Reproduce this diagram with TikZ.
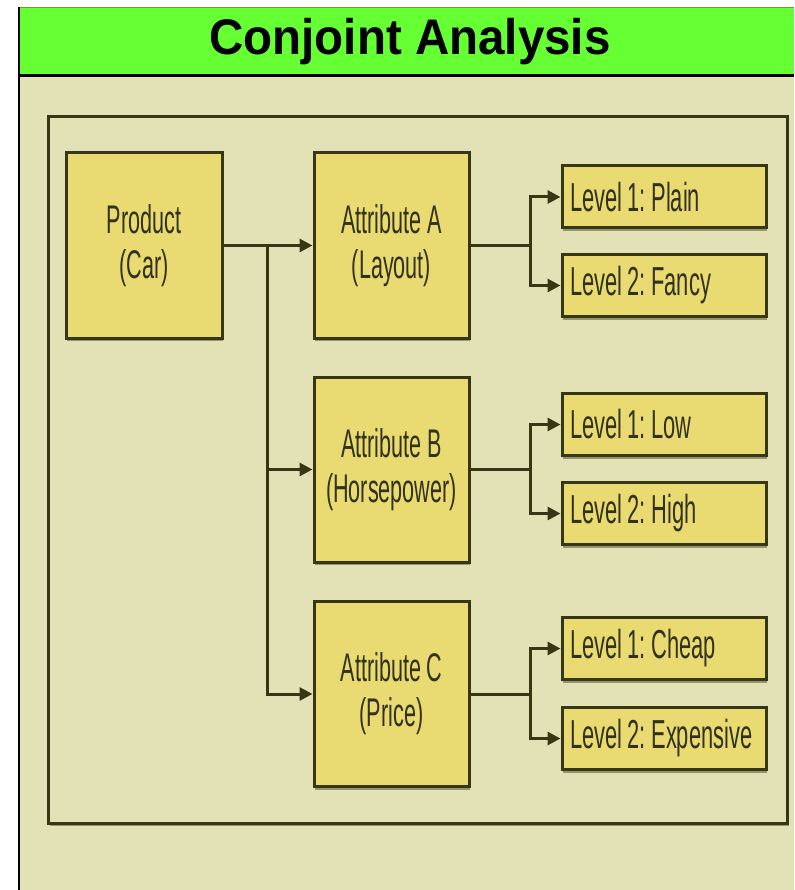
\documentclass[tikz,border=0pt]{standalone}
\usepackage{fontspec}
\setmainfont{Liberation Sans}
\newfontfamily\narrowfont[FakeStretch=0.54,WordSpace=0.6]{Liberation Sans}
\newfontfamily\levelfam[FakeStretch=0.54,WordSpace=0.9]{Liberation Sans}
\newfontfamily\titlefont[FakeStretch=0.95]{Liberation Sans}
\usetikzlibrary{arrows.meta,shadows}
\newcommand{\levelfont}{\levelfam\frenchspacing\hyphenpenalty=10000\relax\fontsize{40.5}{45}\selectfont}
\definecolor{hdrgreen}{RGB}{102,255,51}
\definecolor{bgpat}{RGB}{226,226,182}
\definecolor{boxfill}{RGB}{234,218,114}
\definecolor{edgecol}{RGB}{55,55,22}
\definecolor{txtcol}{RGB}{50,50,28}
\tikzset{
  boxshadow/.style={drop shadow={shadow xshift=1pt,shadow yshift=-3pt,opacity=0.45,fill=edgecol}},
  bigbox/.style={draw=edgecol, line width=3pt, fill=boxfill, boxshadow,
    minimum width=155pt, minimum height=185pt, inner sep=0pt, align=center,
    text=txtcol, font=\narrowfont\frenchspacing\fontsize{40}{45}\selectfont},
  levelbox/.style={draw=edgecol, line width=3pt, fill=boxfill, boxshadow,
    minimum width=204pt, minimum height=62pt, inner xsep=3pt, inner ysep=4pt, text width=198pt,
    align=flush left, text=txtcol, font=\levelfont},
  conn/.style={draw=edgecol, line width=3pt, -{Triangle[length=13pt,width=13pt]}},
  plainline/.style={draw=edgecol, line width=3pt},
}
\begin{document}
\begin{tikzpicture}[x=1pt,y=-1pt]
\useasboundingbox (0,0) rectangle (794,890);
% background
\fill[white] (0,0) rectangle (794,890);
\fill[bgpat] (19,76) rectangle (794,890);
% header
\fill[hdrgreen] (19,7) rectangle (794,76);
\draw[draw={rgb,255:red,140;green,140;blue,40}, line width=1.2pt] (19,7.5) -- (794,7.5);
\draw[black, line width=3pt] (19,76) -- (794,76);
\draw[black, line width=2pt] (19,7) -- (19,890);
\node[font=\titlefont\bfseries\fontsize{50}{55}\selectfont, text=black] (title) at (410,42) {Conjoint Analysis};
% inner frame
\fill[edgecol, opacity=0.45] (50,119) rectangle (789,826);
\draw[edgecol, line width=3pt, fill=bgpat] (48,117) rectangle (787,823);
% boxes
\node[bigbox, minimum width=156pt] (prod) at (144,245.5) {Product\\(Car)};
\node[bigbox] (attA) at (391.5,245.5) {Attribute A\\(Layout)};
\node[bigbox] (attB) at (391.5,469.5) {Attribute B\\(Horsepower)};
\node[bigbox] (attC) at (391.5,694) {Attribute C\\(Price)};
\node[levelbox] (plain) at (664,197) {\hspace*{5pt}Level 1: Plain};
\node[levelbox] (fancy) at (664,285.5) {\hspace*{5pt}Level 2: Fancy};
\node[levelbox] (low) at (664,424.5) {\hspace*{5pt}Level 1: Low};
\node[levelbox] (high) at (664,513.5) {\hspace*{5pt}Level 2: High};
\node[levelbox] (cheap) at (664,648.5) {\hspace*{5pt}Level 1: Cheap};
\node[levelbox] (expens) at (664,738.5) {\hspace*{5pt}Level 2: Expensive};
% connectors
\coordinate (trunk) at (267,245.5);
\draw[conn] (prod) -- (attA);
\draw[conn] (trunk) |- (attB);
\draw[conn] (trunk) |- (attC);
\coordinate (jA) at (530,245.5);
\coordinate (jB) at (530,469.5);
\coordinate (jC) at (530,694);
\draw[plainline] (attA) -- (jA);
\draw[conn] (jA) |- (plain);
\draw[conn] (jA) |- (fancy);
\draw[plainline] (attB) -- (jB);
\draw[conn] (jB) |- (low);
\draw[conn] (jB) |- (high);
\draw[plainline] (attC) -- (jC);
\draw[conn] (jC) |- (cheap);
\draw[conn] (jC) |- (expens);
\end{tikzpicture}
\end{document}
